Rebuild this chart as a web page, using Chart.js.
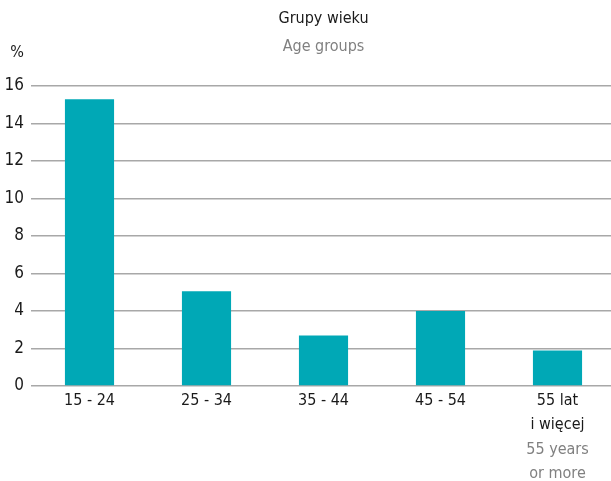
<!DOCTYPE html>
<html>
<head>
<meta charset="utf-8">
<script src="https://cdn.jsdelivr.net/npm/chart.js@4/dist/chart.umd.min.js"></script>
<style>
  html, body { margin: 0; padding: 0; background: #fff; overflow: hidden; }
</style>
</head>
<body>
<canvas id="ageChart" width="616" height="481"></canvas>
<script>
// Data
const categories = [["15 - 24"], ["25 - 34"], ["35 - 44"], ["45 - 54"], ["55 lat", "i więcej"]];
const categoriesEn = [[], [], [], [], ["55 years", "or more"]];
const values = [15.3, 5.05, 2.7, 4.0, 1.9];
const yMax = 16;
const yStep = 2;

const titlePl = "Grupy wieku";
const titleEn = "Age groups";
const unit = "%";

const FONT = "'DejaVu Sans Condensed', 'Liberation Sans Narrow', sans-serif";
const DARK = "#1a1a1a";
const GREY = "#808080";

// Title, unit and english sub-labels
const extraText = {
    id: "extraText",
    afterDraw(chart) {
        const ctx = chart.ctx;
        const area = chart.chartArea;
        const xScale = chart.scales.x;
        ctx.save();
        ctx.textAlign = "center";
        ctx.textBaseline = "middle";
        const cx = (area.left + area.right) / 2;
        ctx.font = "16px " + FONT;
        ctx.fillStyle = DARK;
        ctx.fillText(titlePl, cx, 19);
        ctx.fillStyle = GREY;
        ctx.fillText(titleEn, cx, 47);

        ctx.fillStyle = DARK;
        ctx.fillText(unit, 17, 53);

        // english lines under the polish tick labels
        ctx.fillStyle = GREY;
        categoriesEn.forEach((lines, i) => {
            const x = xScale.getPixelForValue(i);
            const start = 402 + categories[i].length * 24;
            lines.forEach((line, j) => {
                ctx.fillText(line, x, start + j * 24);
            });
        });
        ctx.restore();
    }
};

const ctx = document.getElementById("ageChart");
new Chart(ctx, {
    type: "bar",
    data: {
        labels: categories,
        datasets: [{
            data: values,
            backgroundColor: "#00a8b6",
            borderWidth: 0,
            categoryPercentage: 1,
            barPercentage: 0.42
        }]
    },
    options: {
        responsive: false,
        animation: false,
        layout: { padding: { top: 86, right: 0, left: 0, bottom: 0 } },
        plugins: {
            legend: { display: false },
            tooltip: { enabled: false }
        },
        scales: {
            x: {
                grid: { display: false },
                border: { display: false },
                ticks: {
                    color: DARK,
                    font: { family: FONT, size: 16, lineHeight: 1.5 },
                    padding: -5,
                    maxRotation: 0,
                    autoSkip: false
                },
                afterFit(scale) { scale.height = 95; }
            },
            y: {
                min: 0,
                max: yMax,
                ticks: {
                    stepSize: yStep,
                    color: DARK,
                    font: { family: FONT, size: 17 },
                    padding: 7
                },
                grid: { color: "#a8a8a8", lineWidth: 1.5, drawTicks: false },
                border: { display: false },
                afterFit(scale) { scale.width = 31; }
            }
        }
    },
    plugins: [extraText]
});
</script>
</body>
</html>
